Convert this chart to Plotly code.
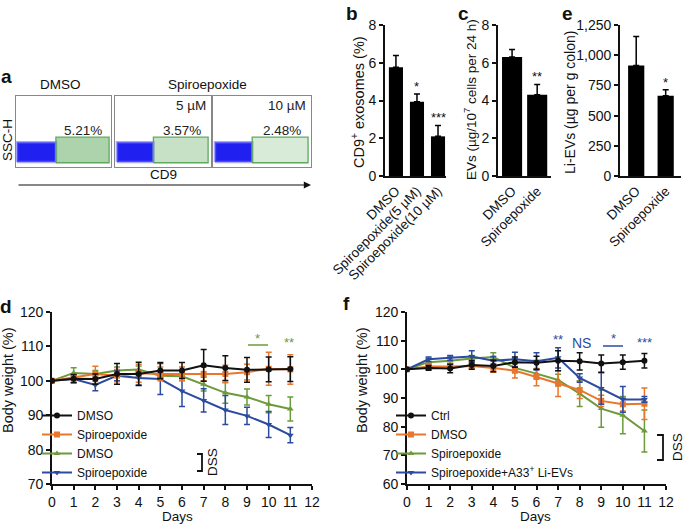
import plotly.graph_objects as go

W, H = 685, 526
FONT = "Liberation Sans, Arial, sans-serif"

# ---------------- data ----------------
# panel a (flow cytometry gates, fraction of panel)
a_titles = ["DMSO", "Spiroepoxide"]
a_doses = ["", "5 µM", "10 µM"]
a_pct = [5.21, 3.57, 2.48]
gate_x0 = [0.42, 0.40, 0.40]
gate_x1 = [0.98, 0.97, 0.97]
gate_y0 = [0.06, 0.06, 0.06]
gate_y1 = [0.42, 0.42, 0.42]
cloud_x0 = [0.01, 0.02, 0.02]
cloud_y0 = [0.07, 0.07, 0.07]
cloud_y1 = [0.35, 0.35, 0.35]

# panel b
b_cats = ["DMSO", "Spiroepoxide(5 µM)", "Spiroepoxide(10 µM)"]
b_vals = [5.76, 3.94, 2.1]
b_err = [0.63, 0.41, 0.58]
b_sig = ["", "*", "***"]

# panel c
c_cats = ["DMSO", "Spiroepoxide"]
c_vals = [6.3, 4.3]
c_err = [0.4, 0.55]
c_sig = ["", "**"]

# panel e
e_cats = ["DMSO", "Spiroepoxide"]
e_vals = [915, 665]
e_err = [240, 50]
e_sig = ["", "*"]

days = list(range(12))
# panel d
d_names = ["DMSO", "Spiroepoxide", "DMSO", "Spiroepoxide"]
d_black = [100, 100.6, 100.5, 102.0, 102.0, 103.0, 103.0, 104.5, 103.7, 103.2, 103.3, 103.4]
d_black_err = [0, 1.2, 1.5, 3.0, 3.4, 2.3, 2.3, 4.6, 3.6, 3.6, 3.6, 3.6]
d_orange = [100, 101.0, 102.0, 101.5, 102.2, 102.0, 102.0, 102.0, 102.0, 102.5, 103.5, 103.3]
d_orange_err = [0, 1.0, 2.2, 1.8, 2.6, 2.0, 2.0, 2.0, 2.5, 2.3, 4.8, 4.3]
d_green = [100, 102.3, 102.0, 103.0, 103.3, 101.5, 101.3, 99.0, 96.5, 95.3, 93.2, 91.8]
d_green_err = [0, 1.5, 1.0, 1.0, 1.0, 1.0, 1.2, 2.0, 3.0, 2.3, 2.5, 3.5]
d_blue = [100, 100.5, 98.8, 101.5, 100.8, 100.5, 97.0, 94.3, 91.5, 89.8, 87.3, 84.2]
d_blue_err = [0, 1.0, 1.7, 1.5, 2.0, 4.5, 4.5, 3.4, 4.2, 2.5, 3.8, 2.2]

# panel f
f_names = ["Ctrl", "DMSO", "Spiroepoxide", "Spiroepoxide+A33<sup>+</sup> Li-EVs"]
f_black = [100, 100.5, 100.3, 101.5, 101.2, 102.5, 102.3, 103.0, 102.8, 102.0, 102.5, 103.0]
f_black_err = [0, 0.8, 1.5, 1.5, 2.0, 1.8, 2.3, 3.5, 3.0, 3.0, 2.5, 2.5]
f_orange = [100, 101.0, 101.0, 101.2, 100.5, 99.5, 97.3, 95.0, 92.8, 89.0, 87.8, 88.0]
f_orange_err = [0, 1.0, 1.0, 1.0, 1.5, 2.5, 3.0, 4.5, 3.0, 2.0, 2.3, 5.5]
f_green = [100, 102.5, 103.0, 103.8, 104.3, 100.5, 98.5, 96.3, 91.5, 86.3, 84.0, 78.5]
f_green_err = [0, 1.0, 1.0, 1.0, 1.5, 1.5, 1.5, 2.0, 4.5, 6.5, 6.5, 7.3]
f_blue = [100, 103.5, 104.0, 104.5, 103.0, 103.5, 102.8, 104.0, 97.0, 93.3, 89.5, 89.5]
f_blue_err = [0, 0.8, 0.8, 2.0, 1.5, 2.5, 3.0, 3.5, 1.5, 5.5, 4.5, 1.0]

BLACK = "#111111"
ORANGE = "#E8762C"
GREEN = "#6B9B3A"
BLUE = "#2B4BA0"


def fx(px):
    return px / W


def fy(py):
    return 1 - py / H


fig = go.Figure()
annotations = []
shapes = []

# ---------------- panel a ----------------
a_boxes = [(16, 111), (115, 211), (213, 311)]
a_top, a_bot = 96, 167
for i in range(3):
    n = i + 1
    xa, ya = f"x{n if n > 1 else ''}", f"y{n if n > 1 else ''}"
    # blue event cloud
    fig.add_trace(go.Scatter(
        x=[cloud_x0[i], gate_x0[i], gate_x0[i], cloud_x0[i], cloud_x0[i]],
        y=[cloud_y0[i], cloud_y0[i], cloud_y1[i], cloud_y1[i], cloud_y0[i]],
        fill="toself", fillcolor="rgba(20,20,240,0.95)", mode="lines",
        line=dict(color="rgba(110,110,255,0.6)", width=2.5),
        xaxis=xa, yaxis=ya, showlegend=False, hoverinfo="skip"))
    # gated events
    fig.add_trace(go.Scatter(
        x=[gate_x0[i], gate_x1[i], gate_x1[i], gate_x0[i], gate_x0[i]],
        y=[gate_y0[i], gate_y0[i], gate_y1[i], gate_y1[i], gate_y0[i]],
        fill="toself", fillcolor=f"rgba(60,150,60,{0.42 * a_pct[i] / a_pct[0]:.3f})",
        mode="lines", line=dict(color="#5DAA5D", width=1.3),
        xaxis=xa, yaxis=ya, showlegend=False, hoverinfo="skip"))
    annotations.append(dict(x=0.70, y=0.52, xref=xa, yref=ya,
                            text=f"{a_pct[i]:.2f}%", font=dict(size=13.5, color="#222")))
    if a_doses[i]:
        annotations.append(dict(x=0.97, y=0.86, xref=xa, yref=ya, xanchor="right",
                                text=a_doses[i], font=dict(size=13.5, color="#222")))

annotations += [
    dict(x=fx(60), y=fy(84), text=a_titles[0], font=dict(size=13.5)),
    dict(x=fx(207), y=fy(84), text=a_titles[1], font=dict(size=13.5)),
    dict(x=fx(7), y=fy(140), text="SSC-H", textangle=-90, font=dict(size=13.5)),
    dict(x=fx(163), y=fy(174), text="CD9", font=dict(size=13.5)),
]
annotations.append(dict(x=fx(311), y=fy(185), ax=-294, ay=0, xref="paper", yref="paper",
                        axref="pixel", ayref="pixel", showarrow=True, arrowhead=2,
                        arrowsize=1.2, arrowwidth=1.2, arrowcolor="#111", text=""))

# ---------------- bar panels ----------------
def bar_panel(n, cats, vals, err, sig, width):
    fig.add_trace(go.Bar(
        x=cats, y=vals, width=width, marker=dict(color="black", line=dict(width=0)),
        error_y=dict(type="data", symmetric=False, array=err, arrayminus=[0] * len(err),
                     color="black", thickness=1.5, width=3),
        xaxis=f"x{n}", yaxis=f"y{n}", showlegend=False, hoverinfo="skip"))
    for c, v, e, s in zip(cats, vals, err, sig):
        if s:
            annotations.append(dict(x=c, y=v + e, xref=f"x{n}", yref=f"y{n}", text=s,
                                    yanchor="bottom", yshift=-2,
                                    font=dict(size=13, color="#111")))


bar_panel(4, b_cats, b_vals, b_err, b_sig, 0.67)
bar_panel(5, c_cats, c_vals, c_err, c_sig, 0.8)
bar_panel(6, e_cats, e_vals, e_err, e_sig, 0.55)

# ---------------- line panels ----------------
def line_trace(n, y, err, color, symbol, name, legend, rank):
    fig.add_trace(go.Scatter(
        x=days, y=y, name=name, mode="lines+markers",
        line=dict(color=color, width=2),
        marker=dict(color=color, symbol=symbol, size=6),
        error_y=dict(type="data", array=err, color=color, thickness=1.5, width=3),
        xaxis=f"x{n}", yaxis=f"y{n}", legend=legend, legendrank=rank, hoverinfo="skip"))


line_trace(7, d_green, d_green_err, GREEN, "triangle-up", d_names[2], "legend", 3)
line_trace(7, d_blue, d_blue_err, BLUE, "triangle-down", d_names[3], "legend", 4)
line_trace(7, d_orange, d_orange_err, ORANGE, "square", d_names[1], "legend", 2)
line_trace(7, d_black, d_black_err, BLACK, "circle", d_names[0], "legend", 1)

line_trace(8, f_green, f_green_err, GREEN, "triangle-up", f_names[2], "legend2", 3)
line_trace(8, f_orange, f_orange_err, ORANGE, "square", f_names[1], "legend2", 2)
line_trace(8, f_blue, f_blue_err, BLUE, "triangle-down", f_names[3], "legend2", 4)
line_trace(8, f_black, f_black_err, BLACK, "circle", f_names[0], "legend2", 1)

# ---------------- axes ----------------
tickfont = dict(size=14, color="#111", family=FONT)
layout = dict(width=W, height=H, margin=dict(l=0, r=0, t=0, b=0, pad=0, autoexpand=False),
              plot_bgcolor="white", paper_bgcolor="white",
              font=dict(family=FONT, size=13, color="#111"))

for i, (x0, x1) in enumerate(a_boxes):
    n = i + 1
    sfx = "" if n == 1 else str(n)
    layout[f"xaxis{sfx}"] = dict(domain=[fx(x0), fx(x1)], range=[0, 1], showline=True, mirror=True,
                                 linecolor="#888", linewidth=1, showticklabels=False, ticks="",
                                 showgrid=False, zeroline=False, anchor=f"y{sfx}", fixedrange=True)
    layout[f"yaxis{sfx}"] = dict(domain=[fy(a_bot), fy(a_top)], range=[0, 1], showline=True, mirror=True,
                                 linecolor="#888", linewidth=1, showticklabels=False, ticks="",
                                 showgrid=False, zeroline=False, anchor=f"x{sfx}", fixedrange=True)


def ax_common(**kw):
    d = dict(showline=True, linecolor="#111", linewidth=1.8, showgrid=False, zeroline=False,
             tickfont=tickfont, ticks="outside", ticklen=4, tickwidth=1.5, tickcolor="#111",
             automargin=False)
    d.update(kw)
    return d


# b
layout["xaxis4"] = ax_common(domain=[fx(385), fx(446)], range=[-0.52, 2.38], anchor="y4",
                             tickangle=-45, ticks="", tickfont=dict(tickfont, size=13.5))
layout["yaxis4"] = ax_common(domain=[fy(176), fy(25)], range=[0, 8], dtick=2, anchor="x4")
# c
layout["xaxis5"] = ax_common(domain=[fx(498), fx(551)], range=[-0.56, 1.55], anchor="y5",
                             tickangle=-45, ticks="", tickfont=dict(tickfont, size=13.5))
layout["yaxis5"] = ax_common(domain=[fy(176), fy(25)], range=[0, 8], dtick=2, anchor="x5")
# e
layout["xaxis6"] = ax_common(domain=[fx(620), fx(681)], range=[-0.55, 1.52], anchor="y6",
                             tickangle=-45, ticks="", tickfont=dict(tickfont, size=13.5))
layout["yaxis6"] = ax_common(domain=[fy(176), fy(25)], range=[0, 1250], dtick=250,
                             tickformat=",", anchor="x6")
# d
layout["xaxis7"] = ax_common(domain=[fx(52), fx(312)], range=[0, 12], dtick=1, anchor="y7")
layout["yaxis7"] = ax_common(domain=[fy(484), fy(312)], range=[70, 120], dtick=10, anchor="x7")
# f
layout["xaxis8"] = ax_common(domain=[fx(407), fx(666)], range=[0, 12], dtick=1, anchor="y8")
layout["yaxis8"] = ax_common(domain=[fy(484), fy(312)], range=[60, 120], dtick=10, anchor="x8")

# legends
leg_common = dict(bgcolor="rgba(0,0,0,0)", font=dict(size=12, color="#111", family=FONT),
                  itemwidth=30, tracegroupgap=0, yanchor="top", xanchor="left",
                  traceorder="normal", itemclick=False, itemdoubleclick=False)
layout["legend"] = dict(leg_common, x=fx(37), y=fy(401))
layout["legend2"] = dict(leg_common, x=fx(391), y=fy(401))

# axis titles & labels
annotations += [
    dict(x=fx(358), y=fy(102), text="CD9<sup>+</sup> exosomes (%)", textangle=-90, font=dict(size=14.5)),
    dict(x=fx(470), y=fy(100), text="EVs (µg/10<sup>7</sup> cells per 24 h)", textangle=-90, font=dict(size=13.5)),
    dict(x=fx(570), y=fy(103), text="Li-EVs (µg per g colon)", textangle=-90, font=dict(size=14)),
    dict(x=fx(8), y=fy(380), text="Body weight (%)", textangle=-90, font=dict(size=14.5)),
    dict(x=fx(362), y=fy(380), text="Body weight (%)", textangle=-90, font=dict(size=14.5)),
    dict(x=fx(177), y=fy(516), text="Days", font=dict(size=13.5)),
    dict(x=fx(535), y=fy(516), text="Days", font=dict(size=13.5)),
    dict(x=fx(212), y=fy(462), text="DSS", textangle=-90, font=dict(size=13.5)),
    dict(x=fx(677), y=fy(447), text="DSS", textangle=-90, font=dict(size=13.5)),
    # significance
    dict(x=fx(257), y=fy(338), text="*", font=dict(size=13, color=GREEN)),
    dict(x=fx(289), y=fy(342), text="**", font=dict(size=13, color=GREEN)),
    dict(x=fx(558), y=fy(339), text="**", font=dict(size=13, color=BLUE)),
    dict(x=fx(581), y=fy(343), text="NS", font=dict(size=14, color=BLUE)),
    dict(x=fx(613), y=fy(338), text="*", font=dict(size=13, color=BLUE)),
    dict(x=fx(644), y=fy(342), text="***", font=dict(size=13, color=BLUE)),
]
# panel letters
for lab, px, py in [("a", 6, 77), ("b", 352, 13), ("c", 463, 13), ("e", 567, 13),
                    ("d", 6, 306), ("f", 346, 303)]:
    annotations.append(dict(x=fx(px), y=fy(py), text=f"<b>{lab}</b>",
                            font=dict(size=19, color="#111")))

for a in annotations:
    a.setdefault("xref", "paper")
    a.setdefault("yref", "paper")
    a.setdefault("showarrow", False)
    a.setdefault("xanchor", "center")
    a.setdefault("yanchor", "middle")

# brackets and significance lines
line_kw = dict(xref="paper", yref="paper", type="path")
shapes += [
    dict(line_kw, path=f"M {fx(197)} {fy(454)} L {fx(202)} {fy(454)} L {fx(202)} {fy(471)} L {fx(197)} {fy(471)}",
         line=dict(color="#111", width=1.8)),
    dict(line_kw, path=f"M {fx(657)} {fy(435)} L {fx(663)} {fy(435)} L {fx(663)} {fy(460)} L {fx(657)} {fy(460)}",
         line=dict(color="#111", width=1.8)),
    dict(line_kw, path=f"M {fx(248)} {fy(345)} L {fx(268)} {fy(345)}", line=dict(color=GREEN, width=1.5)),
    dict(line_kw, path=f"M {fx(603)} {fy(346)} L {fx(623)} {fy(346)}", line=dict(color=BLUE, width=1.5)),
]

layout["annotations"] = annotations
layout["shapes"] = shapes
fig.update_layout(**layout)
fig.write_html("out.html", config={"displayModeBar": False},
               post_script="document.body.style.margin='0px';")
